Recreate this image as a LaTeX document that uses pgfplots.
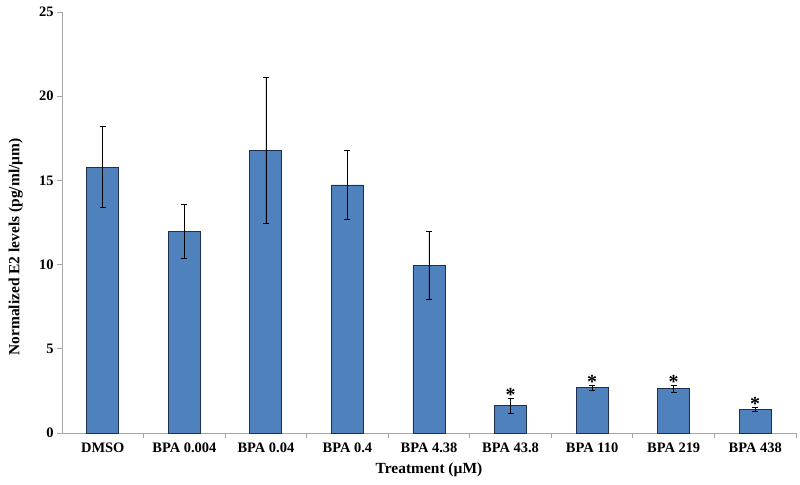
\documentclass[border=0pt]{standalone}
\usepackage{pgfplots}
\pgfplotsset{compat=1.18}
\usepackage{fontspec}
\setmainfont{Liberation Serif}
\definecolor{barblue}{HTML}{4F81BD}
\definecolor{baredge}{HTML}{1F2F4F}
\begin{document}
\begin{tikzpicture}
\begin{axis}[
  at={(0,0)}, anchor=south west,
  scale only axis, width=734bp, height=421bp,
  xmin=-0.5, xmax=8.5, ymin=0, ymax=25,
  ytick={0,5,...,25},
  xtick={0,...,8},
  xticklabels={DMSO,BPA 0.004,BPA 0.04,BPA 0.4,BPA 4.38,BPA 43.8,BPA 110,BPA 219,BPA 438},
  minor xtick={0.5,1.5,...,7.5,8.5},
  axis x line*=bottom, axis y line*=left,
  axis line style={gray!70, line width=0.8pt, -},
  tick align=outside,
  major x tick style={draw=none},
  minor x tick style={gray!70, line width=0.8pt},
  y tick style={gray!70, line width=0.8pt},
  major tick length=5bp, minor tick length=5bp,
  /pgf/number format/assume math mode=true,
  ticklabel style={font=\fontsize{14.5}{16}\selectfont\bfseries},
  xticklabel style={yshift=-1bp},
  ylabel={Normalized E2 levels (pg/ml/µm)},
  xlabel={Treatment (µM)},
  label style={font=\fontsize{15.5}{17}\selectfont\bfseries},
  ylabel style={at={(axis description cs:-0.063,0.442)}, anchor=center},
  xlabel style={at={(axis description cs:0.5,0)}, yshift=-37bp, anchor=center},
  clip=false,
]
\addplot[ybar, bar width=32bp, fill=barblue, draw=baredge, line width=0.8pt,
  error bars/.cd, y dir=both, y explicit,
  error bar style={black, line width=0.7pt},
  error mark options={rotate=90, mark size=3bp, line width=0.7pt, black}]
coordinates {
 (0,15.78) += (0,2.41) -= (0,2.38)
 (1,11.98) += (0,1.57) -= (0,1.59)
 (2,16.77) += (0,4.33) -= (0,4.35)
 (3,14.73) += (0,2.05) -= (0,2.07)
 (4,9.93) += (0,2.02) -= (0,1.99)
 (5,1.62) += (0,0.43) -= (0,0.45)
 (6,2.68) += (0,0.14) -= (0,0.17)
 (7,2.62) += (0,0.20) -= (0,0.23)
 (8,1.42) += (0,0.10) -= (0,0.14)
};
\addplot[draw=none, mark=none, nodes near coords={\textbf{*}},
  every node near coord/.style={font=\fontsize{20}{20}\selectfont\bfseries, anchor=south, inner sep=0pt, yshift=-3.5bp}]
coordinates {(5,2.05) (6,2.82) (7,2.82) (8,1.52)};
\end{axis}
\pgfresetboundingbox
\path (-62bp,-52bp) rectangle (738bp,433bp);
\end{tikzpicture}
\end{document}
